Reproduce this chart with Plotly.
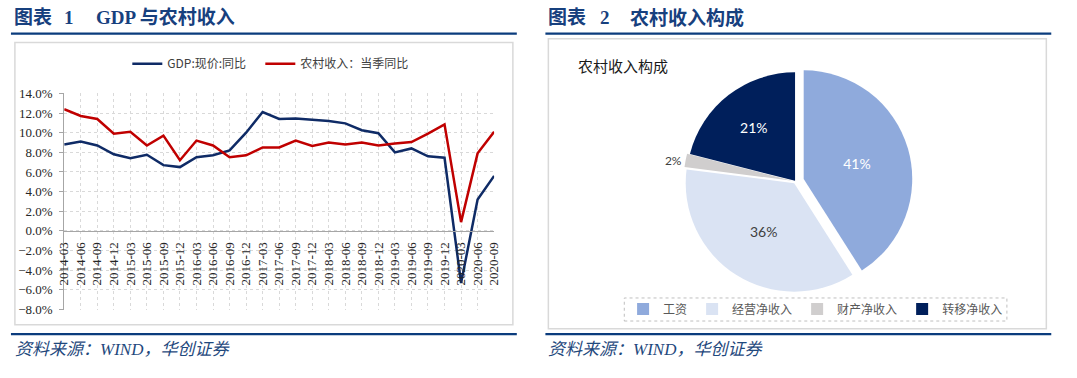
import plotly.graph_objects as go

W, H = 1077, 378

# ---------------- data ----------------
quarters = ["2014-03", "2014-06", "2014-09", "2014-12",
            "2015-03", "2015-06", "2015-09", "2015-12",
            "2016-03", "2016-06", "2016-09", "2016-12",
            "2017-03", "2017-06", "2017-09", "2017-12",
            "2018-03", "2018-06", "2018-09", "2018-12",
            "2019-03", "2019-06", "2019-09", "2019-12",
            "2020-03", "2020-06", "2020-09"]
gdp_yoy = [8.8, 9.1, 8.7, 7.8, 7.4, 7.75, 6.7, 6.5, 7.5, 7.7, 8.2, 10.0,
           12.1, 11.4, 11.45, 11.3, 11.2, 10.95, 10.25, 9.95, 8.0, 8.4, 7.6, 7.45,
           -5.3, 3.2, 5.6]
rural_yoy = [12.4, 11.7, 11.4, 9.9, 10.1, 8.7, 9.7, 7.2, 9.2, 8.7, 7.5, 7.7,
             8.5, 8.5, 9.2, 8.65, 9.0, 8.8, 9.0, 8.7, 8.9, 9.05, 9.9, 10.85,
             0.9, 7.9, 10.1]
series_names = ["GDP:现价:同比", "农村收入：当季同比"]

income_parts = ["工资", "经营净收入", "财产净收入", "转移净收入"]
income_share = [41, 36, 2, 21]

y_min, y_max = -8, 14

# ---------------- helpers (pixel -> paper) ----------------
def px(x):
    return x / W

def py(y):
    return 1 - y / H

BLUE = "#0B3C7D"
TITLE_BLUE = "#17407E"
NAVY = "#0F2B66"
RED = "#C00000"
GRID = "#D9D9D9"
AXIS = "#A6A6A6"
TICKFONT = "Liberation Serif, Times New Roman, serif"
CJK = "Noto Sans CJK SC, Noto Sans, sans-serif"
SERIF = "Liberation Serif, Noto Sans CJK SC, serif"

fig = go.Figure()

fig.add_trace(go.Scatter(x=quarters, y=gdp_yoy, name=series_names[0], mode="lines",
                         line=dict(color=NAVY, width=2.5), legend="legend", legendwidth=88))
fig.add_trace(go.Scatter(x=quarters, y=rural_yoy, name=series_names[1], mode="lines",
                         line=dict(color=RED, width=2.5), legend="legend"))

# pie
pie_cx, pie_cy, pie_r, max_pull = 798.5, 181.5, 113, 0.08
half = pie_r * (1 + max_pull)
fig.add_trace(go.Pie(
    labels=income_parts, values=income_share, sort=False, direction="clockwise",
    rotation=0, pull=[0.08, 0.02, 0.03, 0.005],
    marker=dict(colors=["#8FAADC", "#DAE3F3", "#D0CECE", "#001F5B"], line=dict(width=0)),
    texttemplate="%{percent:.0%}", textposition=["inside", "inside", "outside", "inside"],
    insidetextorientation="horizontal",
    insidetextfont=dict(family="Lato, Noto Sans, sans-serif", size=14,
                        color=["#FFFFFF", "#404040", "#404040", "#FFFFFF"]),
    outsidetextfont=dict(family="Lato, Noto Sans, sans-serif", size=12, color="#404040"),
    domain=dict(x=[px(pie_cx - half), px(pie_cx + half)],
                y=[py(pie_cy + half), py(pie_cy - half)]),
    legend="legend2", hoverinfo="label+percent", showlegend=True,
))

x0_px, x1_px = 57, 493
top_px, bot_px = 90, 315
ydom = [py(bot_px), py(top_px)]
zero_pos = ydom[0] + (0 - y_min) / (y_max - y_min) * (ydom[1] - ydom[0])

fig.update_layout(
    width=W, height=H, margin=dict(l=0, r=0, t=0, b=0),
    paper_bgcolor="white", plot_bgcolor="rgba(0,0,0,0)",
    xaxis=dict(type="category", categoryorder="array", categoryarray=quarters,
               domain=[px(x0_px), px(x1_px)], range=[0, len(quarters) - 1],
               anchor="free", position=zero_pos,
               showgrid=True, gridcolor=GRID, griddash="dot", gridwidth=1,
               showline=True, linecolor=AXIS, linewidth=1,
               ticks="", tickangle=-90, ticklabelstandoff=5,
               tickfont=dict(family=TICKFONT, size=13, color="#262626")),
    yaxis=dict(domain=ydom, range=[y_min, y_max], dtick=2, tick0=0,
               tickformat=".1f", ticksuffix="%",
               showgrid=True, gridcolor=GRID, griddash="dot", gridwidth=1,
               zeroline=False, showline=True, linecolor=AXIS, linewidth=1,
               ticks="outside", ticklen=4, tickcolor=AXIS, ticklabelstandoff=4,
               tickfont=dict(family=TICKFONT, size=13, color="#262626")),
    legend=dict(orientation="h", x=px(121), xanchor="left", y=py(59), yanchor="middle",
                font=dict(family=CJK, size=12, color="#404040"),
                bgcolor="rgba(0,0,0,0)"),
    legend2=dict(orientation="h", x=px(819), xanchor="center", y=py(314.5), yanchor="middle",
                 font=dict(family=CJK, size=12, color="#595959"),
                 bgcolor="rgba(0,0,0,0)"),
)

shapes = []
# chart frames
shapes.append(dict(type="rect", xref="paper", yref="paper", x0=px(7), x1=px(512), y0=py(331), y1=py(37),
                   line=dict(color="#D9D9D9", width=1.5), layer="below"))
shapes.append(dict(type="rect", xref="paper", yref="paper", x0=px(548), x1=px(1053), y0=py(335), y1=py(33),
                   line=dict(color="#D9D9D9", width=1.5), layer="below"))
# blue rules
for (a, b) in [(3, 516), (545, 1058)]:
    for yy in (27.7, 340.7):
        shapes.append(dict(type="line", xref="paper", yref="paper", x0=px(a), x1=px(b), y0=py(yy), y1=py(yy),
                           line=dict(color=BLUE, width=2.2)))
# pie legend dotted frame
shapes.append(dict(type="rect", xref="paper", yref="paper", x0=px(625), x1=px(1013), y0=py(327), y1=py(303),
                   line=dict(color="#BFBFBF", width=1, dash="dot")))
fig.update_layout(shapes=shapes)

ann = []
def title_part(x, text, y=11):
    ann.append(dict(x=px(x), y=py(y), xref="paper", yref="paper", xanchor="left", yanchor="middle",
                    text=f"<b>{text}</b>", showarrow=False,
                    font=dict(family=SERIF, size=19, color=TITLE_BLUE)))

title_part(4, "图表")
title_part(55, "1")
title_part(87, "GDP 与农村收入")
title_part(546, "图表")
title_part(598, "2")
title_part(629, "农村收入构成")

for x in (5, 546):
    ann.append(dict(x=px(x), y=py(357), xref="paper", yref="paper", xanchor="left", yanchor="middle",
                    text="<i>资料来源：WIND，华创证券</i>", showarrow=False,
                    font=dict(family=SERIF, size=17, color="#1F497D")))

ann.append(dict(x=px(576), y=py(61), xref="paper", yref="paper", xanchor="left", yanchor="middle",
                text="农村收入构成", showarrow=False,
                font=dict(family=CJK, size=15, color="#1A1A1A")))
fig.update_layout(annotations=ann)

fig.write_html("out.html")
